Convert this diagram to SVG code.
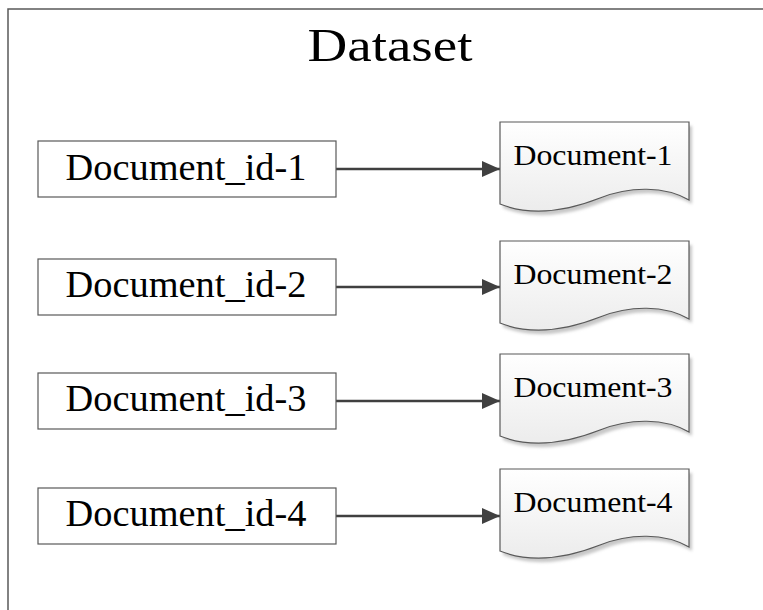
<svg xmlns="http://www.w3.org/2000/svg" width="763" height="610" viewBox="0 0 763 610">
<style>
.frame{fill:none;stroke:#595959;stroke-width:1.5}
.box{fill:#ffffff;stroke:#595959;stroke-width:1.2}
.doc{fill:url(#docgrad);stroke:#595959;stroke-width:1.2}
.shadow{fill:#c8c8c8;filter:url(#blur)}
.t{font-family:"Liberation Serif","Noto Sans CJK SC",serif;fill:#000;text-anchor:middle}
.big{font-size:38px}
.small{font-size:30px}
.title{font-size:47px}
.conn{stroke:#404040;stroke-width:2.5;fill:none;marker-end:url(#arrow)}
</style>
<defs>
<linearGradient id="docgrad" x1="0" y1="0" x2="0" y2="1">
<stop offset="0" stop-color="#ffffff"/>
<stop offset="1" stop-color="#ececec"/>
</linearGradient>
<filter id="blur" x="-10%" y="-10%" width="120%" height="130%"><feGaussianBlur stdDeviation="1.5"/></filter>
<marker id="arrow" markerWidth="18" markerHeight="16" refX="18" refY="8" orient="auto" markerUnits="userSpaceOnUse">
<path d="M0,0 L18,8 L0,16 Z" fill="#404040"/>
</marker>
<path id="docshape" d="M0,0 H189 V78 C165,64 130,64 100,76 C72,87 35,96 0,82 Z"/>
</defs>
<path class="frame" d="M8,610 V9 H763"/>
<text class="t title" x="390" y="61" textLength="165" lengthAdjust="spacingAndGlyphs">Dataset</text>
<g id="connectors">
<line class="conn" x1="336" y1="169" x2="500" y2="169"/>
<line class="conn" x1="336" y1="287" x2="500" y2="287"/>
<line class="conn" x1="336" y1="401" x2="500" y2="401"/>
<line class="conn" x1="336" y1="516" x2="500" y2="516"/>
</g>
<g id="id1"><rect class="box" x="38" y="141" width="298" height="56"/><text class="t big" x="186" y="180" textLength="241" lengthAdjust="spacingAndGlyphs">Document_id-1</text></g>
<g id="id2"><rect class="box" x="38" y="259" width="298" height="56"/><text class="t big" x="186" y="297" textLength="241" lengthAdjust="spacingAndGlyphs">Document_id-2</text></g>
<g id="id3"><rect class="box" x="38" y="373" width="298" height="56"/><text class="t big" x="186" y="411" textLength="241" lengthAdjust="spacingAndGlyphs">Document_id-3</text></g>
<g id="id4"><rect class="box" x="38" y="488" width="298" height="56"/><text class="t big" x="186" y="526" textLength="241" lengthAdjust="spacingAndGlyphs">Document_id-4</text></g>
<g id="doc1"><use href="#docshape" class="shadow" transform="translate(503,126)"/><use href="#docshape" class="doc" transform="translate(500,122)"/><text class="t small" x="593" y="165" textLength="159" lengthAdjust="spacingAndGlyphs">Document-1</text></g>
<g id="doc2"><use href="#docshape" class="shadow" transform="translate(503,245)"/><use href="#docshape" class="doc" transform="translate(500,241)"/><text class="t small" x="593" y="284" textLength="159" lengthAdjust="spacingAndGlyphs">Document-2</text></g>
<g id="doc3"><use href="#docshape" class="shadow" transform="translate(503,358)"/><use href="#docshape" class="doc" transform="translate(500,354)"/><text class="t small" x="593" y="397" textLength="159" lengthAdjust="spacingAndGlyphs">Document-3</text></g>
<g id="doc4"><use href="#docshape" class="shadow" transform="translate(503,473)"/><use href="#docshape" class="doc" transform="translate(500,469)"/><text class="t small" x="593" y="512" textLength="159" lengthAdjust="spacingAndGlyphs">Document-4</text></g>
</svg>
